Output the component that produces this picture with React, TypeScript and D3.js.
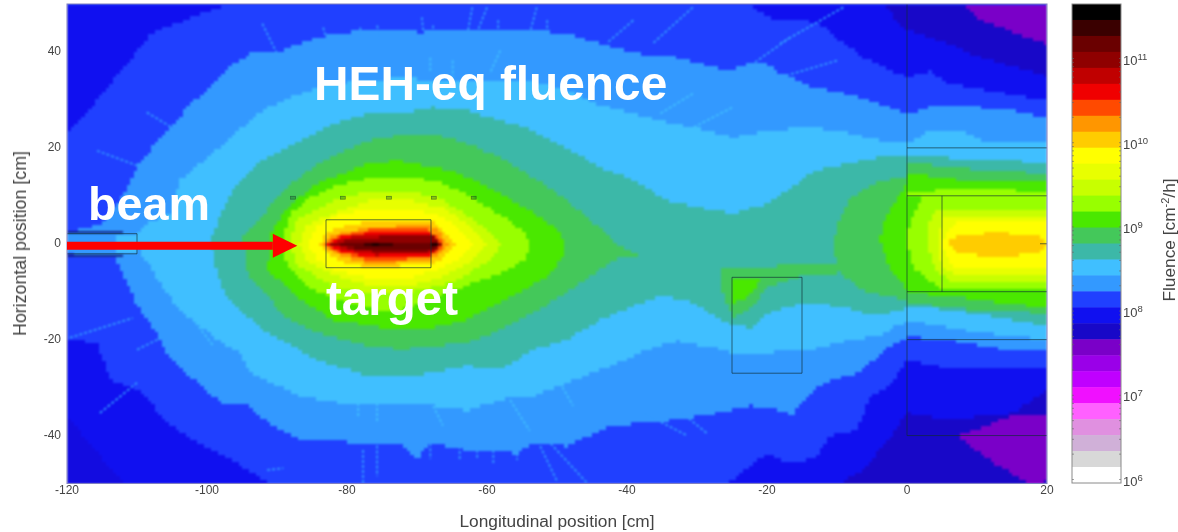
import React, { useMemo } from 'react';
import * as d3 from 'd3';

// colour bar bands, top (highest fluence) to bottom
const bandColors = [
  '#000000', '#3a0000', '#6a0000', '#8f0000', '#c00000', '#f00000', '#ff4a00', '#ff9600', '#ffcc00', '#ffff00',
  '#e8ff00', '#c8ff00', '#98ff00', '#4ae800', '#44c85a', '#3cb8a8', '#40bfff', '#3399ff', '#2040ff', '#1010f0',
  '#1808c8', '#7a00c8', '#9a00e8', '#c000ff', '#f010ff', '#ff60ff', '#e090e0', '#d0b0d8', '#d8d8d8', '#ffffff',
];
const colorExponents = [6, 7, 8, 9, 10, 11];

const xTicks = [-120, -100, -80, -60, -40, -20, 0, 20];
const yTicks = [-40, -20, 0, 20, 40];

// contour outlines, in cm [longitudinal, horizontal]
const dark1UpperLeft = [[-120,23],[-117.1,27.4],[-114.3,32.6],[-111.4,37.6],[-108.1,43.8],[-101,48],[-96.3,50],[-120,50]];
const dark1LowerLeft = [[-120,-19.9],[-115.7,-20.7],[-113.9,-28.4],[-109.6,-30.5],[-105.7,-37.4],[-102,-41],[-96.3,-45.2],[-93.4,-47.9],[-91,-50],[-120,-50]];
const dark2LowerLeft = [[-120,-36],[-120,-50],[-112,-50]];
const dark1UpperRight = [[-22.9,50],[-19.6,47],[-15.3,47],[-12,45.5],[-9.6,42.4],[-6.3,38.9],[0,34.7],[3.3,36.1],[5.7,33.4],[20,29.9],[20,50]];
const dark2UpperRight = [[-3.1,50],[-1,45.5],[0,44.5],[5.7,41.8],[10.4,38.9],[20,35],[20,50]];
const purpleUpperRight = [[7.9,50],[10.4,46.8],[15.1,44.1],[20,41.6],[20,50]];
const dark1LowerRight = [[-26.3,-50],[-24.9,-49.2],[-20,-43.6],[-18.1,-45.2],[-13.4,-45.1],[-11,-40.1],[-7.1,-38.8],[-5.3,-31.7],[-2.4,-29.6],[0,-24.2],[6.6,-26.3],[20,-25.9],[20,-50]];
const dark2LowerRight = [[-9.6,-50],[-6.3,-47.2],[-2,-39.5],[0,-35.3],[5.7,-36.7],[15.1,-35.3],[20,-30.5],[20,-50]];
const purpleLowerRight = [[7.1,-40.1],[15.1,-35.9],[20,-35.7],[20,-49.5],[17.6,-50],[12.9,-46.3]];

const blue3399 = [[-120,2.1],[-115.3,4.2],[-113.9,6.3],[-111.4,11.7],[-110,15.9],[-107.1,21.5],[-104.3,25.7],[-102.9,28.4],[-99.1,33.4],[-96.3,37.6],[-92.9,40.3],[-90,39.7],[-86.7,41.8],[-82,43.8],[-77.1,44.5],[-72.4,44.5],[-69.6,44.1],[-62.9,44.5],[-58.1,44.5],[-53.4,44.5],[-48.6,43.8],[-43.9,41.8],[-39.1,39.7],[-34.3,39.3],[-29.6,37.6],[-25.7,36.1],[-22.4,37.6],[-20,37.6],[-18.1,35.7],[-13.4,32.6],[-8.6,31.3],[-3.9,29.2],[0,27.1],[3.3,28.4],[10.4,28.4],[15.1,27.8],[20,26.3],
  [20,-22.1],[15.1,-22.3],[10.4,-21.3],[5.7,-20],[1.9,-19.6],[0,-19.6],[-2.4,-21.3],[-5.3,-24.8],[-7.7,-27.6],[-10,-28],[-13.4,-30.5],[-15.3,-33.2],[-16.3,-35.9],[-18.1,-34.7],[-22.4,-33.8],[-27.1,-35.3],[-33.4,-36.8],[-42.4,-38],[-48.6,-42.2],[-53.4,-41.6],[-55.7,-43.7],[-62.9,-43],[-68.1,-41.6],[-70,-44.9],[-72.4,-41.6],[-77.1,-42],[-82,-40.9],[-86.7,-40.9],[-90.6,-38],[-94.3,-33.8],[-98.1,-33.2],[-101.4,-29],[-105.7,-23.4],[-107.1,-18.6],[-108.6,-15.9],[-110,-13],[-111.4,-8.1],[-112.9,-4],[-112.9,-2.7],[-115.3,-2.7],[-120,-2.3]];
const blue40bf = [[-109.6,-2.1],[-110,2.3],[-108.6,4.2],[-105.3,6.3],[-103.9,13.2],[-101,16.7],[-97.1,21.5],[-93.9,25.7],[-91.4,28.4],[-86.7,31.3],[-83.4,33],[-78.1,34],[-72.4,34.5],[-62.9,34],[-53.4,33.7],[-48.6,32],[-43.9,28.8],[-39.1,27.1],[-34.3,25.3],[-29.6,24],[-24.9,22.1],[-20,23.6],[-13.4,24.2],[-8.6,23.2],[-3.9,21.5],[0,20.9],[3.3,23.6],[8,23.6],[11.4,20.9],[20,20.9],
  [20,-20],[10.4,-18.6],[5.7,-17.5],[0.9,-16.1],[-1.4,-17.1],[-3.9,-19],[-8.6,-20.3],[-13.4,-22.1],[-15.3,-22.1],[-20,-22.8],[-24.9,-22.8],[-26.3,-22.1],[-32.9,-20.3],[-37.1,-22.1],[-41.4,-24.9],[-43.9,-26.3],[-48.6,-29],[-53.4,-31.8],[-56.7,-31.8],[-59.1,-33.2],[-62.9,-34.7],[-67.7,-33.8],[-72.4,-33.2],[-81,-33.2],[-86.7,-31.8],[-93.9,-26.9],[-95.3,-22.8],[-98.6,-20],[-101,-17.1],[-103.9,-14],[-106.7,-8.4],[-108.6,-3.6]];
const teal = [[-99.3,1.3],[-98.1,6.3],[-96.3,11.7],[-92.4,17.3],[-86.7,21.5],[-82,25],[-77.1,27.1],[-72.4,27.1],[-67.7,28.4],[-62.9,27.8],[-58.1,25.7],[-53.4,23.6],[-48.6,20],[-43.9,15.9],[-39.1,13.2],[-34.3,9],[-29.6,7.5],[-24.9,6.3],[-20,8.4],[-15.7,12.5],[-13.4,15.2],[-8.6,16.7],[-3.9,18],[0,18.4],[8,17.7],[20,16.9],
  [20,-17.1],[15.1,-15.9],[10.4,-14.8],[5.7,-13.8],[0.9,-13],[-2.4,-14.4],[-5.7,-14.8],[-8.6,-13.4],[-13.4,-12.3],[-16.7,-13],[-20,-14.6],[-22,-17.5],[-24.9,-17.1],[-28.1,-14.6],[-31,-11.9],[-35.3,-10.9],[-39.1,-13],[-43.9,-15.9],[-48.6,-20],[-53.4,-22.1],[-58.1,-26.3],[-62.9,-25.5],[-67.7,-26.9],[-72.4,-27.6],[-77.1,-27.6],[-84.3,-24.2],[-91.4,-18.6],[-97.1,-11.7],[-99.1,-4],[-99.3,-0.4]];

const seaGreenLeft = [[-94.9,1.3],[-92.4,5.4],[-89.1,11.1],[-84.3,16.7],[-77.1,21.5],[-72.4,22.6],[-67.7,23],[-62.9,20.9],[-58.1,18],[-53.4,13.8],[-48.6,9],[-43.9,3.3],[-41.4,0],[-38.1,-2.9],[-41.7,-3.1],[-43.9,-5.4],[-48.6,-10.2],[-53.4,-14.4],[-58.1,-18],[-62.9,-20.7],[-72.4,-22.1],[-77.1,-21.3],[-84.3,-18.6],[-89.1,-15],[-91.4,-10.9],[-94.3,-6],[-94.6,-2.5]];
const seaGreenRight = [[20,14.6],[8,15.7],[0.1,16.9],[0,14.2],[-4.9,12.5],[-8.1,9.6],[-10,4.2],[-10.6,-0.8],[-9.6,-6.3],[-8.1,-7.7],[-6.3,-9.8],[0,-11.9],[0.1,-12.3],[8,-13.6],[20,-14.6]];
const seaGreenBox = [[-26.3,-5],[-18.1,-4.6],[-9.6,-4.6],[-9.6,-6.1],[-14.9,-6.7],[-20,-9.2],[-22.4,-13.4],[-24.9,-15.4],[-26.3,-10.4]];

const greenLeft = [[-91,0],[-91,2.1],[-88.6,7.5],[-84.3,12.5],[-77.1,16.7],[-72.4,17.3],[-65.3,15.2],[-60.6,12.5],[-55.7,8.4],[-53,6],[-50.5,3.5],[-48.9,0.6],[-48.9,-1.5],[-49.8,-4],[-51.3,-6.5],[-54,-9],[-58.1,-12.3],[-62.9,-15.9],[-67.7,-17.5],[-72.4,-18],[-82,-15.9],[-86.7,-11.7],[-91.4,-5.4]];
const greenRight = [[20,12.7],[8,13.2],[0.1,14.6],[0,12.5],[-2.9,6.3],[-3.9,1.3],[-2.9,-4.2],[0.1,-9.8],[0.1,-10.2],[8,-11.3],[20,-13.4]];
const greenBox = [[-24.9,-7.3],[-20.7,-7.3],[-22.9,-11.3],[-24.9,-12.3]];

const limeLeft = [[-89.1,0],[-89.1,1.3],[-88.1,6.3],[-85.3,9.6],[-81.4,12.1],[-76.7,13.6],[-72.4,13.8],[-67.7,13.2],[-62.9,10.4],[-59.1,6.8],[-56.5,4.5],[-54.5,2],[-53.9,-0.8],[-54.5,-3],[-57,-5.5],[-62.9,-8.7],[-67.7,-11.4],[-72.4,-13.8],[-76.7,-13.6],[-81.4,-11.8],[-85.3,-9.2],[-88.1,-5.6],[-89.1,-2.1]];
const limeRight = [[20,10.4],[13.3,11.5],[3.3,11.1],[0.1,10.4],[2.1,9.6],[0.4,4.8],[0,0.6],[0.9,-5],[5,-9.8],[20,-9.8]];
const yellowGreenLeft = [[-88.1,0],[-87.4,4.8],[-83.9,7.5],[-81,9.4],[-76.7,11.1],[-72,11.1],[-67.1,9.6],[-63.9,6.9],[-60.6,3.6],[-58.1,0],[-59.2,-3],[-63.9,-7.3],[-67.1,-8.8],[-72,-10.4],[-76.7,-10.4],[-81,-9.4],[-83.9,-7.3],[-87.4,-4.2]];
const yellowGreenRight = [[3.3,5.8],[5,7.3],[20,7.3],[20,-7.7],[6.1,-7.7],[4,-5.6],[2.9,0]];
const paleYellowLeft = [[-86.9,0],[-85.9,3.8],[-81.6,6.5],[-76.7,9],[-71,9],[-66,7.3],[-62.4,3.8],[-60,0],[-62.4,-3.6],[-66,-6.7],[-71,-8.8],[-76.7,-8.8],[-81.6,-6.7],[-85.9,-3.6]];
const paleYellowRight = [[5,5.2],[6.9,5.8],[20,5.8],[20,-6.3],[6.9,-6.3],[5,-5],[4.3,0]];
const yellowLeft = [[-85.6,0],[-84.4,3.8],[-81.7,5.8],[-76.7,7.3],[-71,7.3],[-66.7,5.8],[-63.9,3.1],[-62,0],[-63.9,-3.1],[-66.7,-5.2],[-71,-7.1],[-76.7,-7.1],[-81.7,-5.6],[-84.4,-3.1]];
const yellowRight = [[5.4,2.3],[6.9,4.4],[20,4.4],[20,-5],[6.9,-5],[5.4,-2.5],[5.1,0]];
const amberLeft = [[-84,0],[-82.9,2.1],[-81.4,3.3],[-76.7,4.8],[-68.1,4.8],[-66.3,2.7],[-64.6,0],[-66.3,-2.9],[-68.1,-4.2],[-76.7,-5],[-81.4,-3.6],[-82.9,-1.5]];
const amberRight = [[5.7,0],[7.1,1.7],[12.9,2.3],[18.6,1.7],[20,0],[18.6,-2.1],[12.9,-2.7],[7.1,-2.1]];
const orange = [[-83.6,0],[-82,1.7],[-79.1,2.7],[-76.7,3.5],[-68.1,3.8],[-66.7,2.3],[-65.6,0],[-66.7,-2.1],[-68.1,-3.4],[-76.7,-4.2],[-79.1,-3.3],[-82,-1.9]];
const redOrange = [[-83.3,0],[-81.4,1.5],[-79.1,2.3],[-76.3,3],[-68.6,3.1],[-66.9,1],[-66.3,0],[-66.7,-1.2],[-68.6,-2.9],[-76.3,-3.5],[-79.1,-2.6],[-81.4,-1.7]];
const red = [[-83.1,0],[-81,1.4],[-76.3,2.4],[-68.1,2.6],[-66.4,0],[-68.1,-2.4],[-76.3,-3],[-81,-1.6]];
const red2 = [[-82.9,0],[-80.3,1.2],[-76,2],[-67.9,2],[-66.5,0],[-67.9,-2],[-76,-2.4],[-80.3,-1.3]];
const maroon = [[-82.7,0],[-79.4,0.9],[-75.3,1.4],[-67.7,1.4],[-66.6,0],[-67.7,-1.6],[-75.3,-1.9],[-79.4,-1.1]];
const maroon2 = [[-81,-0.1],[-78.7,0.45],[-67.7,0.6],[-66.9,-0.2],[-67.7,-1],[-78.7,-1]];
const coreDark = [[-77.5,0.3],[-73.5,0.3],[-73.5,-0.5],[-77.5,-0.5]];
const coreBlackA = [[-76.7,0.4],[-75.3,0.4],[-75.3,-0.7],[-76.7,-0.7]];
const coreBlackB = [[-68.1,0.4],[-67,0.4],[-67,-0.7],[-68.1,-0.7]];
const pipeInner = [[-113,1.8],[-110,1.8],[-110,-2.2],[-113,-2.2]];

// thin radial streaks [x1, y1, x2, y2]
const raysOnBlue = [
  [-30.6,49.3,-36.3,41.8],[-39.1,46.6,-42.9,41.8],[-52.9,49.3,-53.9,43.8],[-62.1,49.3,-62.7,44.5],[-60,49.3,-61.3,44.5],
  [-69.3,47.2,-69.1,44.1],[-16.7,43,-23.4,36.1],[-9.1,49.3,-18.1,41.8],[-10,38.2,-18.1,34.7],[-92.1,45.9,-90,39.7],
  [-108.6,27.4,-104.3,23.6],[-115.7,19.4,-110,16.3],[-83.4,45.1,-82.9,42.4],[-75.7,45.5,-75.3,43],[-77.7,-43,-77.7,-49.9],
  [-75.7,-40,-75.7,-48.5],[-115.3,-35.3,-110,-29],[-119.6,-19.6,-110.6,-15.5],[-110,-22.1,-107.1,-20],[-91.4,-47.2,-89.1,-46.8],
  [-52.4,-42.2,-50,-49.5],[-51.4,-40.9,-45.7,-49.9],[-33.4,-33.8,-28.6,-39.5],[-37.7,-35.3,-31.4,-40],
  [-68.1,-41.6,-68.1,-44.9],[-61.4,-40.9,-61.4,-44.9],[-63.9,-42.2,-63.9,-44.9],[-59.1,-43,-59.1,-45.7],[-55.7,-43.7,-55.7,-45.1],
  [-78.1,45.1,-78.1,43],[-67.7,45.5,-67.7,43.8],[-58.4,46.6,-58.4,44.5],[-51.4,46.6,-51.4,43.8],
];
const raysOnMidBlue = [
  [-78.4,-33.2,-78.4,-35.9],[-75.7,-33.2,-75.7,-37.4],[-56.7,-32.6,-53.9,-39],[-49.6,-29,-47.7,-33.8],[-67.7,-33.8,-66.3,-37.9],
  [-58.1,40.3,-59.6,35.5],[-30.6,31.3,-35.3,27.1],[-25,28.4,-31.4,23.6],[-108.1,-4,-99.1,-21.3],
  [-68.1,38.8,-68.1,36.1],[-64.9,38.2,-64.9,34.7],
];

// geometry outlines [x1, y1, x2, y2]
const geometryLines = [
  [0,50,0,-40],[0,-40,20,-40],[0,20,20,20],[0,10,20,10],[5,10,5,-10],[0,-10,20,-10],[0,-20,20,-20],
  [-83,5,-68,5],[-68,5,-68,-5],[-68,-5,-83,-5],[-83,-5,-83,5],
  [-25,-7,-15,-7],[-15,-7,-15,-27],[-15,-27,-25,-27],[-25,-27,-25,-7],
  [-120,2.1,-110,2.1],[-110,2.1,-110,-2.1],[-110,-2.1,-120,-2.1],[19,0,20,0],
];
const pipeStripes = [[-120,2.4,-112,2.4],[-120,-2.5,-112,-2.5]];
const smallMarkers = [-87.7, -80.6, -74, -67.6, -61.9];
const markerY = 9.6;

// painted in order, later layers on top
const layers: [string, number[][]][] = [
  ['#1010f0', dark1UpperLeft], ['#1010f0', dark1LowerLeft], ['#130ce0', dark2LowerLeft],
  ['#1010f0', dark1UpperRight], ['#1808c8', dark2UpperRight], ['#7a00c8', purpleUpperRight],
  ['#1010f0', dark1LowerRight], ['#1808c8', dark2LowerRight], ['#7a00c8', purpleLowerRight],
  ['#3399ff', blue3399], ['#40bfff', blue40bf], ['#40bfff', pipeInner], ['#3cb8a8', teal],
  ['#44c85a', seaGreenLeft], ['#44c85a', seaGreenRight], ['#44c85a', seaGreenBox],
  ['#4ae800', greenLeft], ['#4ae800', greenRight], ['#4ae800', greenBox],
  ['#98ff00', limeLeft], ['#98ff00', limeRight],
  ['#c8ff00', yellowGreenLeft], ['#c8ff00', yellowGreenRight],
  ['#e8ff00', paleYellowLeft], ['#e8ff00', paleYellowRight],
  ['#ffff00', yellowLeft], ['#ffff00', yellowRight],
  ['#ffcc00', amberLeft], ['#ffcc00', amberRight],
  ['#ff9600', orange], ['#ff4a00', redOrange], ['#f00000', red], ['#c00000', red2],
  ['#8f0000', maroon], ['#6a0000', maroon2], ['#3a0000', coreDark], ['#1a0000', coreBlackA], ['#1a0000', coreBlackB],
];

const width = 1178;
const height = 532;
const font = '"Liberation Sans", Arial, sans-serif';

const x = d3.scaleLinear().domain([-120, 20]).range([67, 1047]);
const y = d3.scaleLinear().domain([-50, 50]).range([483.5, 4]);
const barX = 1072;
const barWidth = 49;
const barBand = d3.scaleBand<string>().domain(d3.range(bandColors.length).map(String)).range([4, 483]);
const barLog = d3.scaleLog().domain([1e6, 1e11]).range([479.5, 58.5]);

// rasterise the contours into the same blocky cells the scoring mesh has
function rasterPaths() {
  const cellW = 0.5;
  const cellH = 0.75;
  const paths = new Map<string, string>();
  const reversed = [...layers].reverse();
  const px = (v: number) => Math.round(x(v));
  const py = (v: number) => Math.round(y(v));
  for (const cy of d3.range(-50, 50, cellH)) {
    let runStart = -120;
    let runColor = '';
    const flush = (end: number) => {
      if (!runColor) return;
      const seg = `M${px(runStart)} ${py(cy + cellH)}H${px(end)}V${py(cy)}H${px(runStart)}Z`;
      paths.set(runColor, (paths.get(runColor) || '') + seg);
    };
    for (const cx of d3.range(-120, 20, cellW)) {
      const pt: [number, number] = [cx + cellW / 2, cy + cellH / 2];
      const hit = reversed.find((l) => d3.polygonContains(l[1] as [number, number][], pt));
      const color = hit ? hit[0] : '#2040ff';
      if (color !== runColor) {
        flush(cx);
        runStart = cx;
        runColor = color;
      }
    }
    flush(20);
  }
  return Array.from(paths.entries());
}

export default function App() {
  const cells = useMemo(rasterPaths, []);
  const minorTicks = barLog.ticks().filter((t) => barLog(t) > 4);
  const arrowY = -0.4;
  const textColor = '#444';

  const seg = (s: number[], i: number, stroke: string, sw: number, dash?: string) => (
    <line key={i} x1={x(s[0])} y1={y(s[1])} x2={x(s[2])} y2={y(s[3])} stroke={stroke} strokeWidth={sw} strokeDasharray={dash} />
  );

  return (
    <svg width={width} height={height} style={{ position: 'absolute', left: 0, top: 0, display: 'block', background: '#fff' }} fontFamily={font}>
      <defs>
        <filter id="soft" x="0" y="0" width="1" height="1" colorInterpolationFilters="sRGB">
          <feGaussianBlur stdDeviation="0.8" />
        </filter>
        <filter id="softText" x="-0.1" y="-0.1" width="1.2" height="1.2" colorInterpolationFilters="sRGB">
          <feGaussianBlur stdDeviation="0.35" />
        </filter>
        <clipPath id="plot">
          <rect x={x(-120)} y={y(50)} width={x(20) - x(-120)} height={y(-50) - y(50)} />
        </clipPath>
      </defs>

      <g clipPath="url(#plot)">
        <g filter="url(#soft)">
          <rect x={x(-120)} y={y(50)} width={x(20) - x(-120)} height={y(-50) - y(50)} fill="#2040ff" />
          {cells.map(([color, d]) => (
            <path key={color} d={d} fill={color} shapeRendering="crispEdges" />
          ))}
          {raysOnBlue.map((s, i) => seg(s, i, '#3399ff', 1.8, '3 2'))}
          {raysOnMidBlue.map((s, i) => seg(s, i, '#40bfff', 1.8, '3 2'))}
          {pipeStripes.map((s, i) => seg(s, i, '#10187a', 2))}
        </g>
        {geometryLines.map((s, i) => seg(s, i, 'rgba(15,45,50,0.65)', 1))}
        {smallMarkers.map((m) => (
          <rect key={m} x={x(m - 0.35)} y={y(markerY + 0.3)} width={x(m + 0.35) - x(m - 0.35)} height={y(markerY - 0.3) - y(markerY + 0.3)} fill="rgba(20,90,40,0.35)" stroke="rgba(20,60,40,0.6)" strokeWidth={0.7} />
        ))}
      </g>
      <rect x={x(-120)} y={y(50)} width={x(20) - x(-120)} height={y(-50) - y(50)} fill="none" stroke="#7f7fc0" strokeWidth={1} />

      <g filter="url(#softText)">
        {xTicks.map((t) => (
          <text key={t} x={x(t)} y={494} textAnchor="middle" fontSize={12} fill={textColor}>{t}</text>
        ))}
        {yTicks.map((t) => (
          <text key={t} x={61} y={y(t) + 3.5} textAnchor="end" fontSize={12} fill={textColor}>{t}</text>
        ))}
        <text x={557} y={527} textAnchor="middle" fontSize={17.3} fill={textColor}>Longitudinal position [cm]</text>
        <text transform={`translate(26,243.5) rotate(-90)`} textAnchor="middle" fontSize={17.8} fill={textColor}>Horizontal position [cm]</text>
      </g>

      {bandColors.map((c, i) => (
        <rect key={i} x={barX} y={barBand(String(i))} width={barWidth} height={barBand.bandwidth() + 0.5} fill={c} />
      ))}
      <rect x={barX} y={4} width={barWidth} height={479} fill="none" stroke="#8a8a8a" strokeWidth={1} />
      {minorTicks.map((t, i) => (
        <g key={i} stroke="#666" strokeWidth={0.6}>
          <line x1={barX} x2={barX + 2} y1={barLog(t)} y2={barLog(t)} />
          <line x1={barX + barWidth - 2} x2={barX + barWidth} y1={barLog(t)} y2={barLog(t)} />
        </g>
      ))}
      <g filter="url(#softText)">
        {colorExponents.map((e) => (
          <text key={e} x={1123} y={barLog(Math.pow(10, e)) + 6} fontSize={13} fill={textColor}>
            10<tspan dy={-5} fontSize={9.5}>{e}</tspan>
          </text>
        ))}
        <text transform={`translate(1175,240) rotate(-90)`} textAnchor="middle" fontSize={17.3} fill={textColor}>
          Fluence [cm<tspan dy={-6} fontSize={11}>-2</tspan><tspan dy={6}>/h]</tspan>
        </text>
      </g>

      <line x1={x(-120)} x2={x(-90.6)} y1={y(arrowY)} y2={y(arrowY)} stroke="#ff0000" strokeWidth={8} />
      <path
        d={`M${x(-90.6)} ${y(arrowY) - 12}L${x(-87.1)} ${y(arrowY)}L${x(-90.6)} ${y(arrowY) + 12}Z`}
        fill="#ff0000"
      />
      <text x={314} y={100} fontSize={47.8} fontWeight="bold" fill="#fff">HEH-eq fluence</text>
      <text x={88} y={220} fontSize={46.7} fontWeight="bold" fill="#fff">beam</text>
      <text x={326} y={315} fontSize={47.5} fontWeight="bold" fill="#fff">target</text>
    </svg>
  );
}
